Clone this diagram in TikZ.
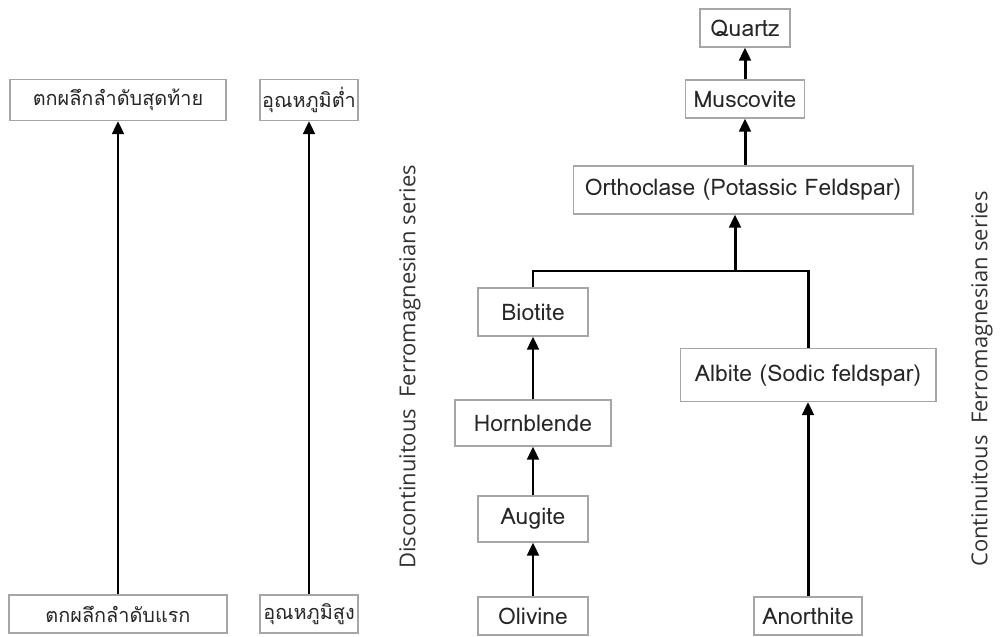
\documentclass[tikz,border=0pt]{standalone}
\usepackage{fontspec}
\setmainfont{Open Sans}
\newfontfamily\thaifont[Script=Thai]{Loma}
\usetikzlibrary{arrows.meta}
\tikzset{
  mineral/.style={draw=gray!70,line width=0.6pt,fill=white,inner sep=0pt,
    font=\thaifont\fontsize{13}{15}\selectfont,text=black!85},
  thaibox/.style={mineral,font=\thaifont\fontsize{11.3}{14}\selectfont},
  flowline/.style={-{Triangle[length=2.6mm,width=2.3mm]},line width=1.7pt},
  joinline/.style={line width=1.7pt},
  serieslabel/.style={rotate=90,font=\fontsize{12.5}{15}\selectfont,text=black!80}
}

\begin{document}
\begin{tikzpicture}[x=0.02cm,y=-0.02cm]
    \useasboundingbox (0,0) rectangle (1001,636);
    % left: order of crystallisation and temperature
    \node[thaibox,minimum width=4.32cm,minimum height=0.82cm] (last) at (118,100) {ตกผลึกลำดับสุดท้าย};
    \node[thaibox,minimum width=1.96cm,minimum height=0.82cm] (low) at (309,100) {อุณหภูมิต่ำ};
    \node[thaibox,minimum width=4.36cm,minimum height=0.76cm] (first) at (118,614) {ตกผลึกลำดับแรก};
    \node[thaibox,minimum width=1.96cm,minimum height=0.76cm] (high) at (309,614) {อุณหภูมิสูง};
    \draw[flowline] (first) -- (last);
    \draw[flowline] (high) -- (low);
    \node[serieslabel] (disc) at (410,367) {Discontinuitous\ \ Ferromagnesian series};
    \node[serieslabel] (cont) at (982,379) {Continuitous\ \ Ferromagnesian series};
    % discontinuous branch
    \node[mineral,minimum width=2.2cm,minimum height=0.76cm] (olivine) at (533,616) {Olivine};
    \node[mineral,minimum width=2.2cm,minimum height=0.92cm] (augite) at (533,519) {Augite};
    \node[mineral,minimum width=3.12cm,minimum height=0.92cm] (hornblende) at (533,423) {Hornblende};
    \node[mineral,minimum width=2.2cm,minimum height=0.96cm] (biotite) at (533,312) {Biotite};
    % continuous branch
    \node[mineral,minimum width=2.16cm,minimum height=0.76cm] (anorthite) at (808,616) {Anorthite};
    \node[mineral,minimum width=5.12cm,minimum height=1.06cm] (albite) at (808,375) {Albite (Sodic feldspar)};
    % common tail
    \node[mineral,minimum width=6.8cm,minimum height=0.96cm] (orthoclase) at (743,190) {Orthoclase (Potassic Feldspar)};
    \node[mineral,minimum width=2.38cm,minimum height=0.76cm] (muscovite) at (745,99) {Muscovite};
    \node[mineral,minimum width=1.8cm,minimum height=0.76cm] (quartz) at (745,28) {Quartz};
    \draw[flowline] (olivine) -- (augite);
    \draw[flowline] (augite) -- (hornblende);
    \draw[flowline] (hornblende) -- (biotite);
    \draw[flowline] (anorthite) -- (albite);
    \coordinate (merge) at (735,271);
    \draw[joinline] (biotite.north) |- (merge) -| (albite.north);
    \draw[flowline] (merge) -- (merge |- orthoclase.south);
    \draw[flowline] (orthoclase.north -| muscovite) -- (muscovite);
    \draw[flowline] (muscovite) -- (quartz);
\end{tikzpicture}
\end{document}
